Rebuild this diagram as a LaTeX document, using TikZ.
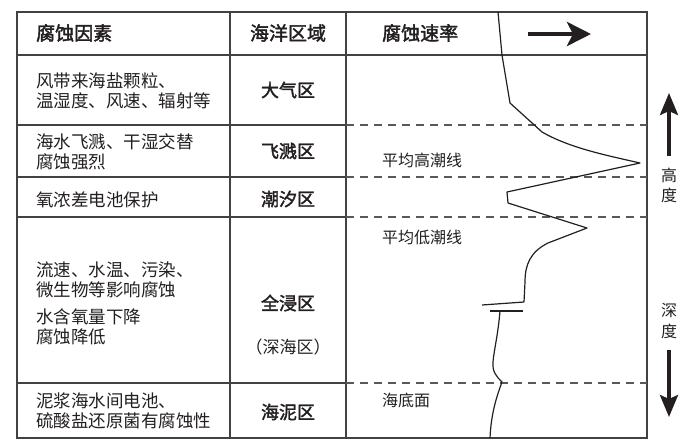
\documentclass[tikz,border=0pt]{standalone}
\usepackage{fontspec}
\setmainfont{Noto Sans CJK SC}[BoldFont={Noto Sans CJK SC}, BoldFeatures={FakeBold=2}]
\usetikzlibrary{arrows.meta}
\definecolor{ink}{HTML}{231F20}

\begin{document}
\begin{tikzpicture}[x=1pt, y=-1pt,
    grid/.style={draw=ink!85, line width=1.3pt},
    tideline/.style={draw=ink!75, line width=1.1pt, dash pattern=on 8pt off 6pt},
    head/.style={font=\fontsize{19}{22}\selectfont\bfseries, text=ink, inner sep=0pt},
    factor/.style={font=\fontsize{17.5}{20}\selectfont, text=ink, align=left, anchor=west, inner sep=0pt},
    zone/.style={font=\fontsize{18}{21}\selectfont\bfseries, text=ink, inner sep=0pt},
    lvl/.style={font=\fontsize{16}{19}\selectfont, text=ink, anchor=west, inner sep=0pt},
    curve/.style={draw=ink, line width=1.2pt, line join=round},
    fatarrow/.style={-{Stealth[length=24pt, width=24pt, inset=6pt]}, line width=4.5pt, draw=ink},
    sidearrow/.style={-{Stealth[length=22pt, width=18pt, inset=4pt]}, line width=3.5pt, draw=ink}
]
    \useasboundingbox (0,0) rectangle (691,445);

    % table frame
    \draw[grid] (17,12) rectangle (647,438);
    \draw[grid] (17,55) -- (647,55);
    \draw[grid] (230,12) -- (230,438);
    \draw[grid] (346,12) -- (346,438);
    \foreach \y in {125,177,217,383} {
        \draw[grid] (17,\y) -- (346,\y);
        \draw[tideline] (346,\y) -- (647,\y);
    }

    % header
    \node[head, anchor=west] (hfac) at (36,33) {腐蚀因素};
    \node[head] (hzone) at (288,33) {海洋区域};
    \node[head, anchor=west] (hrate) at (382,33) {腐蚀速率};
    \coordinate (ratetail) at (528,34);
    \coordinate (ratetip) at (591,34);
    \draw[fatarrow] (ratetail) -- (ratetip);

    % factors
    \node[factor] (fair) at (36,91) {风带来海盐颗粒、\\温湿度、风速、辐射等};
    \node[factor] (fsplash) at (36,152) {海水飞溅、干湿交替\\腐蚀强烈};
    \node[factor] (ftide) at (36,200) {氧浓差电池保护};
    \node[factor] (fsea) at (36,280) {流速、水温、污染、\\微生物等影响腐蚀};
    \node[factor] (fdeep) at (36,327) {水含氧量下降\\腐蚀降低};
    \node[factor] (fmud) at (36,411) {泥浆海水间电池、\\硫酸盐还原菌有腐蚀性};

    % zones
    \node[zone] (zair) at (288,90) {大气区};
    \node[zone] (zsplash) at (288,151) {飞溅区};
    \node[zone] (ztide) at (288,199) {潮汐区};
    \node[zone] (zsea) at (288,303) {全浸区};
    \node[lvl, font=\fontsize{17}{20}\selectfont, anchor=center] (zdeep) at (288,347) {（深海区）};
    \node[zone] (zmud) at (288,412) {海泥区};

    % levels
    \node[lvl] (lhigh) at (382,160) {平均高潮线};
    \node[lvl] (llow) at (382,237) {平均低潮线};
    \node[lvl] (lbed) at (382,400) {海底面};

    % corrosion rate curve
    \draw[curve] (498,12) -- (502,55) -- (510,103) -- (542,132)
        .. controls (570,148) and (605,155) .. (640,163)
        -- (507,192) -- (508,203) -- (587,228) -- (548,243)
        .. controls (530,252) and (525,265) .. (525,282)
        -- (524,302) -- (482,305);
    \draw[curve] (490,311) -- (523,311);
    \draw[curve] (500,311) .. controls (498,335) and (494,350) .. (493,362)
        .. controls (492,372) and (497,377) .. (502,382)
        .. controls (496,398) and (491,415) .. (490,438);

    % height / depth
    \coordinate (upfoot) at (669,156);
    \coordinate (uptip) at (669,93);
    \draw[sidearrow] (upfoot) -- (uptip);
    \node[lvl, anchor=center] (khigh) at (669,175) {高};
    \node[lvl, anchor=center] (kdeg1) at (669,195) {度};
    \node[lvl, anchor=center] (kdeep) at (669,310) {深};
    \node[lvl, anchor=center] (kdeg2) at (669,331) {度};
    \coordinate (downfoot) at (669,350);
    \coordinate (downtip) at (669,417);
    \draw[sidearrow] (downfoot) -- (downtip);
\end{tikzpicture}
\end{document}
